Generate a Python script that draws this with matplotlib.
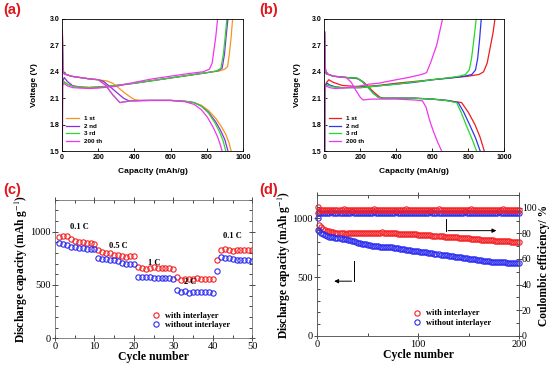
import matplotlib.pyplot as plt
import numpy as np
from matplotlib.ticker import MultipleLocator

plt.rcParams['mathtext.fontset'] = 'stix'

SANS = 'Liberation Sans'
SERIF = 'Liberation Serif'

# ---------------- panel (a): voltage profiles, with interlayer ----------------
a_labels = ['1 st', '2 nd', '3 rd', '200 th']
a_colors = ['#F7941D', '#8A2BE2', '#2FD82F', '#F035F0']

a_dis_cap = [
    [2, 5, 10, 50, 100, 150, 200, 250, 280, 300, 340, 380, 400, 430, 500, 600, 680, 730, 770, 810, 850, 880, 905, 922, 935],
    [2, 5, 10, 50, 100, 150, 200, 230, 260, 300, 340, 370, 400, 500, 600, 680, 730, 770, 810, 850, 875, 900, 917],
    [2, 5, 10, 50, 100, 150, 200, 240, 280, 320, 340, 380, 450, 600, 680, 730, 770, 810, 845, 870, 890, 905],
    [2, 5, 10, 50, 100, 150, 200, 240, 280, 320, 340, 380, 450, 600, 680, 730, 770, 805, 835, 858, 872, 885],
]
a_dis_v = [
    [2.87, 2.45, 2.38, 2.35, 2.335, 2.32, 2.31, 2.295, 2.27, 2.24, 2.17, 2.11, 2.085, 2.075, 2.075, 2.075, 2.065, 2.05, 2.02, 1.96, 1.87, 1.78, 1.69, 1.6, 1.5],
    [2.87, 2.45, 2.38, 2.35, 2.335, 2.32, 2.31, 2.29, 2.24, 2.17, 2.10, 2.07, 2.07, 2.075, 2.075, 2.065, 2.05, 2.01, 1.94, 1.83, 1.74, 1.63, 1.5],
    [2.87, 2.45, 2.38, 2.35, 2.335, 2.32, 2.31, 2.25, 2.14, 2.05, 2.06, 2.07, 2.075, 2.075, 2.065, 2.05, 2.01, 1.93, 1.82, 1.72, 1.62, 1.5],
    [2.87, 2.45, 2.38, 2.35, 2.335, 2.32, 2.31, 2.25, 2.14, 2.05, 2.055, 2.07, 2.075, 2.075, 2.06, 2.03, 1.97, 1.88, 1.77, 1.67, 1.59, 1.5],
]
a_chg_cap = [
    [2, 3, 8, 30, 60, 100, 150, 200, 300, 400, 500, 600, 700, 800, 870, 900, 915, 925, 935, 943],
    [2, 3, 12, 30, 60, 100, 150, 200, 300, 400, 500, 600, 700, 800, 860, 885, 898, 907, 917],
    [2, 3, 10, 30, 60, 100, 150, 200, 300, 400, 500, 600, 700, 800, 855, 878, 892, 902, 911],
    [2, 3, 10, 30, 60, 100, 150, 200, 300, 400, 500, 600, 700, 780, 815, 830, 840, 850, 860],
]
a_chg_v = [
    [1.5, 2.25, 2.29, 2.26, 2.24, 2.23, 2.225, 2.23, 2.245, 2.27, 2.30, 2.33, 2.36, 2.39, 2.41, 2.43, 2.46, 2.6, 2.8, 3.0],
    [1.5, 2.28, 2.335, 2.29, 2.24, 2.225, 2.22, 2.225, 2.245, 2.27, 2.30, 2.33, 2.36, 2.39, 2.41, 2.44, 2.6, 2.8, 3.0],
    [1.5, 2.26, 2.29, 2.26, 2.235, 2.225, 2.22, 2.225, 2.245, 2.27, 2.30, 2.33, 2.36, 2.39, 2.41, 2.44, 2.6, 2.8, 3.0],
    [1.5, 2.24, 2.27, 2.24, 2.22, 2.215, 2.21, 2.215, 2.235, 2.28, 2.32, 2.35, 2.38, 2.40, 2.43, 2.5, 2.65, 2.8, 3.0],
]

# ---------------- panel (b): voltage profiles, without interlayer ----------------
b_labels = ['1 st', '2 nd', '3 rd', '200 th']
b_colors = ['#EE1C1C', '#3434EE', '#22DD22', '#F035F0']

b_dis_cap = [
    [2, 5, 10, 50, 100, 150, 190, 220, 250, 280, 310, 330, 400, 500, 600, 680, 763, 800, 837, 865, 889],
    [2, 5, 10, 50, 100, 150, 180, 210, 240, 270, 300, 320, 400, 500, 600, 680, 744, 775, 807, 840, 866],
    [2, 5, 10, 50, 100, 150, 180, 210, 240, 270, 300, 320, 400, 500, 600, 670, 735, 760, 787, 820, 846],
    [2, 5, 10, 50, 100, 125, 150, 175, 200, 215, 260, 400, 500, 545, 565, 585, 605, 630, 652],
]
b_dis_v = [
    [2.85, 2.45, 2.38, 2.35, 2.34, 2.33, 2.32, 2.28, 2.22, 2.16, 2.11, 2.10, 2.10, 2.10, 2.09, 2.075, 2.05, 1.94, 1.8, 1.66, 1.5],
    [2.85, 2.45, 2.38, 2.35, 2.34, 2.33, 2.33, 2.29, 2.23, 2.16, 2.11, 2.10, 2.10, 2.10, 2.09, 2.075, 2.05, 1.94, 1.8, 1.65, 1.5],
    [2.85, 2.45, 2.38, 2.35, 2.34, 2.33, 2.33, 2.29, 2.23, 2.16, 2.11, 2.10, 2.10, 2.10, 2.09, 2.075, 2.05, 1.94, 1.8, 1.64, 1.5],
    [2.85, 2.45, 2.38, 2.35, 2.34, 2.33, 2.28, 2.19, 2.11, 2.08, 2.09, 2.09, 2.08, 2.07, 2.0, 1.85, 1.73, 1.6, 1.5],
]
b_chg_cap = [
    [2, 3, 10, 25, 50, 100, 200, 300, 400, 500, 600, 700, 800, 860, 885, 905, 924, 938, 948],
    [2, 3, 15, 30, 60, 100, 200, 300, 400, 500, 600, 700, 780, 820, 840, 852, 862, 872],
    [2, 3, 12, 30, 60, 100, 200, 300, 400, 500, 600, 700, 750, 785, 805, 818, 830, 844],
    [2, 3, 10, 30, 60, 100, 150, 200, 250, 300, 400, 467, 541, 568, 590, 624, 657],
]
b_chg_v = [
    [1.5, 2.22, 2.27, 2.31, 2.28, 2.245, 2.23, 2.245, 2.27, 2.29, 2.31, 2.33, 2.35, 2.37, 2.40, 2.5, 2.7, 2.85, 3.0],
    [1.5, 2.22, 2.27, 2.25, 2.23, 2.22, 2.22, 2.24, 2.26, 2.28, 2.31, 2.33, 2.35, 2.37, 2.42, 2.55, 2.75, 3.0],
    [1.5, 2.22, 2.25, 2.24, 2.225, 2.22, 2.22, 2.24, 2.26, 2.285, 2.31, 2.335, 2.35, 2.37, 2.42, 2.55, 2.75, 3.0],
    [1.5, 2.2, 2.24, 2.22, 2.21, 2.215, 2.225, 2.24, 2.26, 2.27, 2.31, 2.335, 2.37, 2.39, 2.5, 2.7, 3.0],
]

# ---------------- panel (c): rate performance ----------------
c_cycles = np.arange(1, 51)
c_with = [945, 960, 955, 930, 910, 905, 900, 895, 890, 885,
          830, 810, 800, 795, 785, 780, 770, 760, 770, 770,
          665, 660, 650, 660, 665, 660, 655, 655, 655, 650,
          570, 550, 560, 555, 560, 565, 555, 555, 560, 555,
          730, 825, 837, 825, 816, 825, 825, 825, 825, 825]
c_without = [895, 885, 870, 860, 855, 850, 845, 840, 840, 835,
             750, 740, 745, 735, 730, 720, 710, 700, 695, 695,
             575, 570, 570, 570, 565, 565, 565, 565, 565, 560,
             450, 435, 440, 425, 430, 430, 430, 430, 430, 425,
             635, 762, 757, 753, 744, 737, 732, 732, 730, 728]
c_rates = ['0.1 C', '0.5 C', '1 C', '2 C', '0.1 C']
c_rate_x = [6.2, 16, 25.1, 34.2, 45]
c_rate_y = [1041, 863, 706, 531, 957]

# ---------------- panel (d): cycling at fixed rate ----------------
d_cycles = np.r_[1, np.arange(2, 201, 2)]
d_cap_with = [1050,
    940, 925, 912, 903, 896, 890, 885, 881, 878, 876,
    874, 872, 872, 871, 872, 873, 872, 874, 873, 872,
    873, 872, 874, 875, 874, 876, 877, 878, 879, 880,
    880, 881, 880, 879, 877, 875, 874, 873, 872, 871,
    870, 869, 869, 868, 867, 866, 866, 865, 864, 862,
    861, 860, 858, 857, 856, 855, 854, 852, 851, 849,
    848, 847, 846, 845, 844, 843, 842, 841, 839, 837,
    836, 835, 833, 831, 830, 828, 827, 825, 823, 822,
    820, 819, 818, 816, 815, 813, 812, 811, 810, 809,
    808, 807, 806, 805, 804, 803, 802, 802, 801, 800]
d_cap_without = [900,
    895, 880, 868, 858, 850, 845, 841, 838, 836, 834,
    831, 828, 825, 822, 819, 816, 810, 804, 798, 793,
    788, 785, 781, 778, 775, 772, 769, 766, 764, 762,
    760, 758, 757, 757, 758, 757, 755, 752, 749, 746,
    743, 740, 737, 734, 731, 728, 726, 724, 722, 720,
    717, 715, 712, 710, 707, 705, 703, 700, 698, 695,
    692, 690, 687, 685, 682, 680, 677, 675, 672, 670,
    668, 665, 663, 660, 657, 655, 652, 650, 647, 645,
    643, 640, 638, 636, 633, 631, 630, 632, 630, 628,
    627, 626, 625, 624, 623, 623, 622, 621, 621, 620]
d_ce_with = [101.0,
    97.7, 98.1, 98.3, 98.0, 98.4, 98.5, 98.2, 98.1, 98.6, 98.3,
    98.0, 98.4, 98.7, 98.1, 98.3, 97.9, 98.4, 98.5, 98.2, 98.1,
    98.6, 98.3, 98.0, 98.4, 98.5, 98.2, 98.3, 98.7, 98.1, 98.4,
    98.0, 98.3, 98.5, 98.2, 98.4, 98.6, 98.1, 98.3, 98.0, 98.4,
    98.5, 98.2, 98.3, 98.7, 98.1, 98.4, 98.0, 98.3, 98.5, 98.2,
    98.4, 98.6, 98.1, 98.3, 98.0, 98.4, 98.5, 98.2, 98.3, 98.7,
    98.1, 98.4, 98.0, 98.3, 98.5, 98.2, 98.4, 98.6, 98.1, 98.3,
    98.0, 98.4, 98.5, 98.2, 98.3, 98.7, 98.1, 98.4, 98.0, 98.3,
    98.5, 98.2, 98.4, 98.6, 98.1, 98.3, 98.0, 98.4, 98.5, 98.2,
    98.3, 98.7, 98.1, 98.4, 98.0, 98.3, 98.5, 98.2, 98.4, 98.5]
d_ce_without = [92.0,
    95.8, 96.1, 96.3, 96.0, 96.2, 95.9, 96.4, 96.1, 95.8, 96.2,
    96.0, 96.3, 95.9, 96.1, 96.2, 95.8, 96.4, 96.0, 96.1, 96.2,
    95.9, 96.3, 96.0, 96.1, 95.8, 96.2, 96.0, 96.4, 95.9, 96.1,
    96.2, 96.0, 95.8, 96.3, 96.1, 95.9, 96.2, 96.0, 96.4, 96.1,
    95.8, 96.2, 96.0, 96.1, 96.3, 95.9, 96.1, 96.2, 96.0, 95.8,
    96.3, 96.1, 95.9, 96.2, 96.0, 96.4, 96.1, 95.8, 96.2, 96.0,
    96.1, 96.3, 95.9, 96.1, 96.2, 96.0, 95.8, 96.3, 96.1, 95.9,
    96.2, 96.0, 96.4, 96.1, 95.8, 96.2, 96.0, 96.1, 96.3, 95.9,
    96.1, 96.2, 96.0, 95.8, 96.3, 96.1, 95.9, 96.2, 96.0, 96.4,
    96.1, 95.8, 96.2, 96.0, 96.1, 96.3, 95.9, 96.1, 96.2, 96.3]

RED = '#F52022'
BLUE = '#2B2BF2'

fig = plt.figure(figsize=(5.5, 3.66), dpi=100)
ax_a = fig.add_axes([0.1127, 0.5874, 0.329, 0.3607])
ax_b = fig.add_axes([0.5896, 0.5874, 0.3273, 0.3607])
ax_c = fig.add_axes([0.1, 0.0757, 0.3587, 0.379])
ax_d = fig.add_axes([0.5769, 0.0828, 0.3673, 0.3844])


def style_voltage(ax):
    ax.set_xlim(0, 1000)
    ax.set_ylim(1.5, 3.0)
    ax.set_xticks(range(0, 1001, 200))
    ax.set_yticks([1.5, 1.8, 2.1, 2.4, 2.7, 3.0])
    ax.set_yticklabels(['1.5', '1.8', '2.1', '2.4', '2.7', '3.0'])
    ax.tick_params(direction='in', length=2, width=0.6, labelsize=5, pad=2)
    for lab in ax.get_xticklabels() + ax.get_yticklabels():
        lab.set_fontweight('bold')
        lab.set_family(SANS)
    for sp in ax.spines.values():
        sp.set_linewidth(0.6)
    ax.set_xlabel('Capacity (mAh/g)', fontsize=6, fontweight='bold', family=SANS, labelpad=5)
    ax.set_ylabel('Voltage (V)', fontsize=6, fontweight='bold', family=SANS, labelpad=8)


for ax, dc, dv, cc, cv, cols, labs in [
        (ax_a, a_dis_cap, a_dis_v, a_chg_cap, a_chg_v, a_colors, a_labels),
        (ax_b, b_dis_cap, b_dis_v, b_chg_cap, b_chg_v, b_colors, b_labels)]:
    for i in range(4):
        ax.plot(dc[i], dv[i], color=cols[i], lw=0.9, label=labs[i])
        ax.plot(cc[i], cv[i], color=cols[i], lw=0.9)
    style_voltage(ax)
    ax.legend(loc='lower left', bbox_to_anchor=(0.0, 0.02), frameon=False,
              prop={'family': SANS, 'weight': 'bold', 'size': 4.5},
              handlelength=2.0, handletextpad=0.8, labelspacing=0.35, borderaxespad=0.3)


def style_cycle(ax):
    ax.tick_params(which='major', direction='inout', length=4, width=0.5, labelsize=7.5, pad=1)
    ax.tick_params(which='minor', direction='in', length=2, width=0.5)
    for lab in ax.get_xticklabels() + ax.get_yticklabels():
        lab.set_family(SERIF)
    for sp in ax.spines.values():
        sp.set_linewidth(0.5)
        sp.set_color('#555555')
    ax.set_xlabel('Cycle number', fontsize=8.5, fontweight='bold', family=SERIF, labelpad=0)
    ax.set_ylabel('Discharge capacity (mAh g$^{-1}$)', fontsize=8.3, fontweight='bold', family=SERIF, labelpad=0)


# (c)
mk = dict(marker='o', ls='none', ms=3.8, mfc='none', mew=0.8)
ax_c.plot(c_cycles, c_with, color=RED, label='with interlayer', **mk)
ax_c.plot(c_cycles, c_without, color=BLUE, label='without interlayer', **mk)
ax_c.set_xlim(0, 50)
ax_c.set_ylim(0, 1300)
ax_c.set_xticks(range(0, 51, 10))
ax_c.set_yticks([0, 500, 1000])
ax_c.xaxis.set_minor_locator(MultipleLocator(5))
ax_c.yaxis.set_minor_locator(MultipleLocator(100))
ax_c.tick_params(which='both', top=True, right=True)
style_cycle(ax_c)
for txt, x, y in zip(c_rates, c_rate_x, c_rate_y):
    ax_c.text(x, y, txt, fontsize=6, fontweight='bold', family=SERIF, ha='center', va='center')
ax_c.legend(loc='lower left', bbox_to_anchor=(0.47, 0.04), frameon=False,
            prop={'family': SERIF, 'weight': 'bold', 'size': 6},
            handlelength=1.2, handletextpad=0.5, labelspacing=0.15, borderaxespad=0)

# (d)
ax_d2 = ax_d.twinx()
ax_d.plot(d_cycles, d_cap_with, color=RED, label='with interlayer', clip_on=False, **mk)
ax_d.plot(d_cycles, d_cap_without, color=BLUE, label='without interlayer', clip_on=False, **mk)
ax_d2.plot(d_cycles, d_ce_without, color=BLUE, clip_on=False, **mk)
ax_d2.plot(d_cycles, d_ce_with, color=RED, clip_on=False, **mk)
ax_d.set_xlim(0, 200)
ax_d.set_ylim(0, 1200)
ax_d2.set_ylim(0, 110)
ax_d.set_xticks([0, 100, 200])
ax_d.set_yticks([0, 500, 1000])
ax_d.xaxis.set_minor_locator(MultipleLocator(50))
ax_d.yaxis.set_minor_locator(MultipleLocator(100))
ax_d.tick_params(which='both', top=True)
style_cycle(ax_d)
ax_d2.set_yticks(range(0, 101, 20))
ax_d2.yaxis.set_minor_locator(MultipleLocator(10))
ax_d2.tick_params(which='major', direction='inout', length=4, width=0.5, labelsize=7, pad=0)
ax_d2.tick_params(which='minor', direction='in', length=2, width=0.5)
for lab in ax_d2.get_yticklabels():
    lab.set_family(SERIF)
for sp in ax_d2.spines.values():
    sp.set_linewidth(0.5)
    sp.set_color('#555555')
ax_d2.set_ylabel('Coulombic efficiency/ %', fontsize=8.3, fontweight='bold', family=SERIF, labelpad=1)

ax_d.plot([36.5, 36.5], [635, 465], color='k', lw=0.7)
ax_d.annotate('', xy=(14, 465), xytext=(36.8, 465),
              arrowprops=dict(arrowstyle='-|>', color='k', lw=0.7, mutation_scale=6))
ax_d.plot([127, 127], [995, 896], color='k', lw=0.7)
ax_d.annotate('', xy=(180, 896), xytext=(126.7, 896),
              arrowprops=dict(arrowstyle='-|>', color='k', lw=0.7, mutation_scale=6))
ax_d.legend(loc='lower left', bbox_to_anchor=(0.45, 0.04), frameon=False,
            prop={'family': SERIF, 'weight': 'bold', 'size': 6},
            handlelength=1.2, handletextpad=0.5, labelspacing=0.15, borderaxespad=0)

# panel letters
for x, y, s in [(0.005, 0.972, '(a)'), (0.471, 0.972, '(b)'),
                (0.005, 0.482, '(c)'), (0.471, 0.482, '(d)')]:
    fig.text(x, y, s, color='#E0161E', fontsize=10.5, fontweight='bold', family=SANS, va='center')

fig.savefig('out.png', dpi=100)
